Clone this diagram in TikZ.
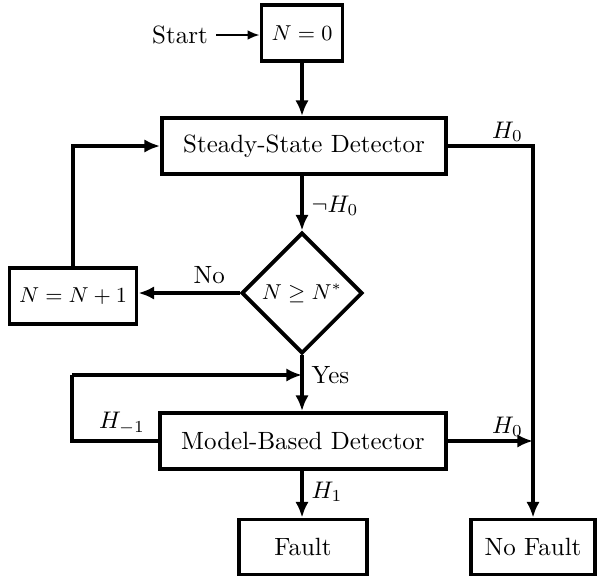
\documentclass[tikz,border=0pt]{standalone}
\usetikzlibrary{shapes.geometric,arrows.meta}
\begin{document}
\begin{tikzpicture}[x=0.4167pt,y=-0.4167pt,
  font=\fontsize{10.4}{12.5}\selectfont,
  box/.style={draw,line width=1.6pt,rectangle,inner sep=0pt,minimum height=56*0.4167pt},
  boxmath/.style={font=\fontsize{8.7}{10.5}\selectfont},
  decision/.style={draw,line width=1.6pt,diamond,aspect=1,inner sep=0pt,minimum width=121*0.4167pt,minimum height=121*0.4167pt},
  flow/.style={line width=1.4pt,-{Latex[length=6.5pt,width=5.5pt]}},
  plain/.style={line width=1.4pt},
  thinflow/.style={line width=0.8pt,-{Latex[length=5pt,width=4pt]}}]
\useasboundingbox (0,0) rectangle (597,577);

% blocks
\node[box,boxmath,minimum width=81*0.4167pt] (n0) at (302,33) {$N=0$};
\node (start) at (180,35) {Start};
\node[box,minimum width=284*0.4167pt] (ssd) at (304,146) {Steady-State Detector};
\node[decision,boxmath] (chk) at (302,293) {$N\geq N^{*}$};
\node[box,boxmath,minimum width=127*0.4167pt] (inc) at (73,296) {$N=N+1$};
\node[box,minimum width=286*0.4167pt] (mbd) at (303,441) {Model-Based Detector};
\node[box,minimum width=128*0.4167pt,minimum height=55*0.4167pt] (fault) at (303,547) {Fault};
\node[box,minimum width=124*0.4167pt,minimum height=55*0.4167pt] (nofault) at (533,547) {No Fault};

\coordinate (loop) at (72,375);
\coordinate (join) at (302,375);

% connectors
\draw[thinflow] (start.east) -- (start.east -| n0.west);
\draw[flow] (n0.south) -- (n0.south |- ssd.north);
\draw[flow] (ssd.east) -- node[above,pos=0.7,inner sep=1pt]{$H_0$} (ssd.east -| nofault.north) -- (nofault.north);
\draw[flow] (chk.north |- ssd.south) -- node[right,pos=0.55]{$\neg H_0$} (chk.north);
\draw[flow] (chk.west) -- node[above,pos=0.3]{No} (inc.east |- chk.west);
\draw[flow] (inc.north) |- (ssd.west);
\draw[flow] (chk.south) -- node[right,pos=0.35]{Yes} (chk.south |- mbd.north);
\draw[plain] (mbd.west) -| node[above,pos=0.21,inner sep=2pt]{$H_{-1}$} (loop);
\draw[flow] (loop) -- (join);
\draw[flow] (mbd.east) -- node[above,pos=0.7,inner sep=1pt]{$H_0$} (mbd.east -| nofault.north);
\draw[flow] (chk.south |- mbd.south) -- node[right,pos=0.45]{$H_1$} (chk.south |- fault.north);
\end{tikzpicture}
\end{document}
